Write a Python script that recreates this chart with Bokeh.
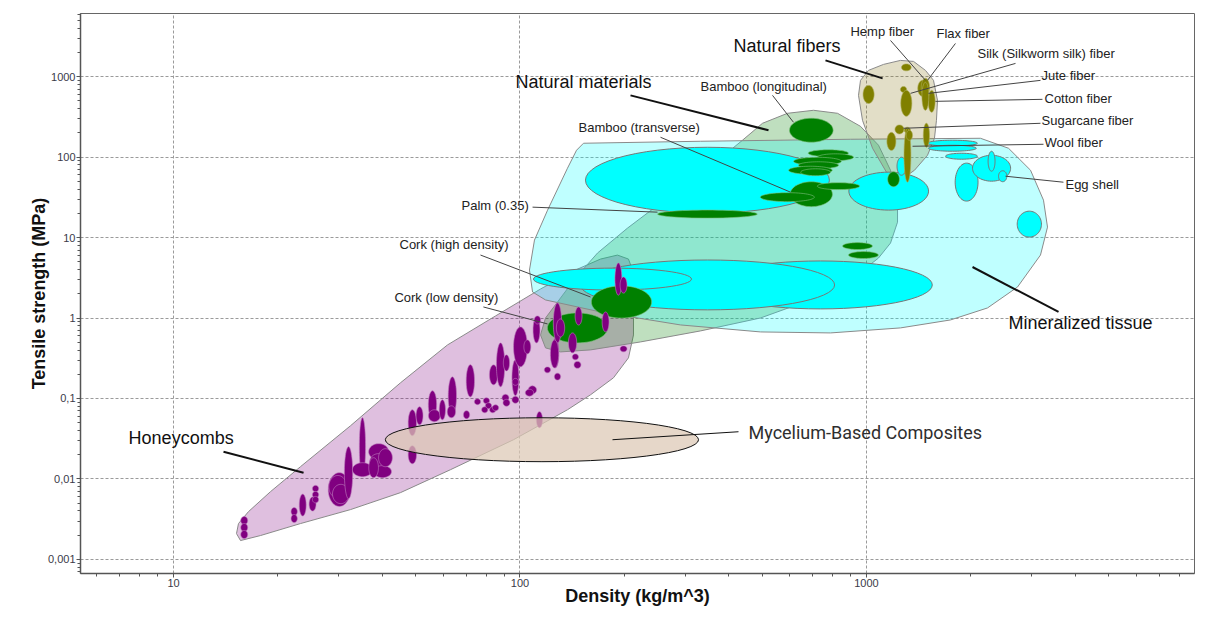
import numpy as np
from bokeh.plotting import figure
from bokeh.models import Range1d, FixedTicker, CustomJSTickFormatter, ColumnDataSource
from bokeh.embed import file_html
from bokeh.resources import INLINE
from bokeh.core.properties import value

# ---------------- envelopes (density kg/m^3, tensile strength MPa) ----------------
honeycomb_env_rho = [15.61, 15.20, 15.40, 16.46, 19.05, 23.26, 32.42, 45.19, 61.78, 85.00, 114.6, 144.6,
                     170.8, 191.1, 205.6, 211.2, 212.6, 212.6, 205.6, 186.1, 159.8, 137.1, 95.8, 63.0,
                     45.19, 32.42, 23.26, 17.83]
honeycomb_env_sig = [0.001714, 0.002094, 0.002786, 0.003926, 0.00695, 0.01422, 0.04581, 0.1567, 0.4634,
                     1.062, 2.296, 3.952, 5.41, 6.06, 5.41, 3.95, 1.679, 0.6166, 0.3199, 0.1807, 0.1112,
                     0.07244, 0.03074, 0.01303, 0.00676, 0.00416, 0.00279, 0.00198]

natmat_env_rho = [118.5, 114.6, 118.5, 130.9, 144.6, 167.4, 204.3, 254.4, 316.8, 378.9, 438.6, 501.1,
                  591.6, 703.1, 824.9, 961.0, 1083, 1173, 1229, 1229, 1173, 1083, 899.1, 689.3, 494.5,
                  331.8, 222.7, 159.8, 130.9]
natmat_env_sig = [0.4256, 0.6166, 1.002, 1.775, 3.147, 6.43, 13.12, 26.8, 51.6, 96.8, 162.2, 263.6,
                  350.8, 382.2, 350.8, 241.5, 140.7, 68.7, 29.2, 15.56, 8.55, 5.57, 2.97, 1.679, 1.002,
                  0.6918, 0.5047, 0.4018, 0.3793]

mineral_env_rho = [152.5, 331.8, 899.1, 2133, 2570, 2974, 3242, 3330, 3178, 2728, 2235, 1748, 1253,
                   787.4, 494.5, 290.5, 170.8, 118.5, 108.7, 106.5, 110.1, 120.1, 137.1, 145.6]
mineral_env_sig = [148.8, 157.5, 166.8, 171.6, 128.9, 68.8, 29.2, 13.5, 6.07, 2.43, 1.335, 0.947, 0.754,
                   0.653, 0.672, 0.821, 1.19, 1.678, 2.107, 3.95, 9.31, 21.9, 72.8, 121.8]

fiber_env_rho = [1120, 1253, 1367, 1480, 1561, 1603, 1592, 1571, 1500, 1376, 1253, 1142, 1041, 973.9,
                 948.3, 961.0, 1013]
fiber_env_sig = [1421, 1593, 1548, 1197, 900, 508, 287.0, 171.6, 105.6, 68.8, 51.7, 65.0, 128.9, 287.0,
                 586.1, 900, 1197]

# ---------------- material bubbles: centre + half-span (decades) ----------------
# Honeycombs (purple)
hc_rho = [16.0, 16.0, 16.0, 22.3, 22.3, 23.6, 25.2, 25.7, 25.7, 25.7, 30.1, 29.8, 30.4, 32.0, 35.1, 35.1,
          39.1, 39.1, 40.1, 37.8, 40.9, 48.9, 48.9, 51.3, 55.9, 56.6, 59.7, 63.8, 63.4, 71.9, 70.1, 75.4,
          80.0, 81.1, 79.1, 83.4, 85.0, 83.9, 87.9, 90.8, 91.4, 97.0, 100.3, 105.0, 97.0, 97.0, 108.6,
          106.5, 111.6, 113.8, 120.0, 126.6, 128.3, 192.3, 199.0, 147.6, 176.6, 128.3, 130.9, 141.8,
          125.8, 144.5, 199.0, 146.5, 112.3, 91.4]
hc_sig = [0.00304, 0.00249, 0.00204, 0.00393, 0.00322, 0.00474, 0.00488, 0.00759, 0.00638, 0.00553,
          0.00738, 0.0080, 0.0065, 0.01197, 0.0252, 0.01303, 0.0218, 0.0164, 0.01233, 0.0138, 0.01837,
          0.0500, 0.0200, 0.0611, 0.0836, 0.0611, 0.0724, 0.108, 0.0684, 0.166, 0.0628, 0.0912, 0.0938,
          0.0813, 0.0724, 0.0724, 0.0767, 0.197, 0.262, 0.102, 0.0885, 0.181, 0.438, 0.438, 0.0964,
          0.161, 0.128, 0.118, 0.711, 0.0545, 0.227, 0.369, 0.187, 3.05, 2.57, 1.06, 0.895, 0.869,
          0.753, 0.491, 0.358, 0.329, 0.414, 0.262, 0.946, 0.277]
hc_drho = [0.010, 0.010, 0.010, 0.009, 0.009, 0.010, 0.010, 0.009, 0.009, 0.009, 0.032, 0.026, 0.024,
           0.012, 0.009, 0.029, 0.029, 0.026, 0.026, 0.014, 0.020, 0.012, 0.012, 0.010, 0.012, 0.017,
           0.009, 0.012, 0.012, 0.012, 0.009, 0.009, 0.009, 0.009, 0.009, 0.009, 0.009, 0.012, 0.012,
           0.010, 0.010, 0.010, 0.020, 0.010, 0.010, 0.009, 0.012, 0.012, 0.010, 0.009, 0.009, 0.010,
           0.009, 0.010, 0.010, 0.010, 0.010, 0.012, 0.012, 0.012, 0.012, 0.009, 0.010, 0.010, 0.009,
           0.009]
hc_dsig = [0.05, 0.05, 0.05, 0.05, 0.05, 0.136, 0.087, 0.04, 0.04, 0.04, 0.21, 0.14, 0.12, 0.323, 0.36,
           0.087, 0.10, 0.10, 0.075, 0.124, 0.112, 0.161, 0.112, 0.112, 0.174, 0.074, 0.124, 0.236,
           0.074, 0.20, 0.05, 0.037, 0.037, 0.037, 0.037, 0.037, 0.037, 0.124, 0.273, 0.043, 0.043,
           0.223, 0.248, 0.087, 0.043, 0.043, 0.05, 0.043, 0.161, 0.10, 0.037, 0.186, 0.043, 0.20, 0.10,
           0.112, 0.124, 0.248, 0.112, 0.124, 0.174, 0.037, 0.037, 0.043, 0.05, 0.10]

# Natural materials (green)
nm_rho = [693, 776, 814, 722, 727, 689, 713, 693, 591, 830, 347.5, 942, 980, 196.3, 146.6, 1197]
nm_sig = [216, 112, 99.6, 88.7, 79.3, 68.7, 64.9, 34.6, 31.8, 43.6, 19.6, 7.85, 6.07, 1.585, 0.753, 53.1]
nm_drho = [0.063, 0.058, 0.052, 0.069, 0.058, 0.063, 0.043, 0.061, 0.078, 0.061, 0.144, 0.043, 0.043,
           0.087, 0.087, 0.017]
nm_dsig = [0.149, 0.043, 0.043, 0.05, 0.043, 0.05, 0.043, 0.155, 0.056, 0.043, 0.05, 0.043, 0.043, 0.20,
           0.186, 0.093]

# Natural fibers (olive)
nf_rho = [1303, 1014, 1279, 1303, 1452, 1479, 1542, 1479, 1245, 1312, 1180, 1313, 1330, 1489]
nf_sig = [1304, 602, 694, 467, 716, 737, 494, 570, 221, 216, 157, 105.6, 187, 187]
nf_drho = [0.014, 0.016, 0.009, 0.016, 0.014, 0.012, 0.010, 0.010, 0.013, 0.009, 0.013, 0.010, 0.009,
           0.009]
nf_dsig = [0.043, 0.112, 0.037, 0.161, 0.10, 0.112, 0.136, 0.174, 0.056, 0.037, 0.112, 0.335, 0.062,
           0.149]

# Mineralized tissue (cyan)
mt_rho = [347.5, 736, 347.5, 184.9, 1159, 1262, 1770, 1770, 1880, 1945, 2296, 2296, 2472, 2951]
mt_sig = [51.7, 2.58, 2.58, 3.05, 37.8, 77.1, 149, 129, 102.6, 48.9, 72.8, 88.9, 57.9, 14.7]
mt_drho = [0.352, 0.323, 0.367, 0.228, 0.115, 0.013, 0.072, 0.069, 0.046, 0.033, 0.055, 0.010, 0.012,
           0.035]
mt_dsig = [0.409, 0.298, 0.31, 0.136, 0.236, 0.112, 0.037, 0.037, 0.037, 0.236, 0.161, 0.124, 0.068,
           0.161]

# Mycelium-based composites
myc_rho = [115.7]
myc_sig = [0.03073]
myc_drho = [0.452]
myc_dsig = [0.273]

# ---------------- labels ----------------
big_text = ["Natural fibers", "Natural materials", "Honeycombs", "Mineralized tissue"]
big_x = [413.3, 97.05, 7.42, 2570]
big_y = [2376, 849.8, 0.03254, 0.8694]

small_text = ["Bamboo (longitudinal)", "Bamboo (transverse)", "Palm (0.35)", "Cork (high density)",
              "Cork (low density)", "Hemp fiber", "Flax fiber", "Silk (Silkworm silk) fiber",
              "Jute fiber", "Cotton fiber", "Sugarcane fiber", "Wool fiber", "Egg shell"]
small_x = [331.8, 147.5, 67.8, 44.9, 43.4, 899, 1592, 2091, 3200, 3264, 3200, 3264, 3752]
small_y = [758.1, 235.0, 25.3, 8.31, 1.776, 3648, 3445, 1946, 1038, 538, 287, 153, 46.1]

myc_text = ["Mycelium-Based Composites"]
myc_x = [456.6]
myc_y = [0.03753]

thick_x0 = [761.5, 208.4, 13.94, 2023]
thick_y0 = [1593, 586.1, 0.02182, 4.31]
thick_x1 = [1113, 521.5, 23.73, 3583]
thick_y1 = [952.6, 215.7, 0.01197, 1.19]

thin_x0 = [535.5, 254.4, 108.7, 76.9, 78.4, 1173, 1806, 2692, 3178, 3220, 3178, 3242, 3702]
thin_y0 = [586.1, 176.6, 23.9, 6.07, 1.373, 2820, 2589, 1462, 900, 522.9, 263.4, 144.5, 48.8]
thin_x1 = [615.7, 603.6, 249.4, 159.8, 120.1, 1480, 1500, 1340, 1510, 1581, 1279, 1358, 2519]
thin_y1 = [271.0, 36.7, 20.7, 1.827, 0.845, 900, 900, 620.6, 620.6, 493.8, 228.4, 136.5, 57.9]

myc_lead_x0 = [184.9]
myc_lead_y0 = [0.03073]
myc_lead_x1 = [427.2]
myc_lead_y1 = [0.03862]

y_major = [0.001, 0.01, 0.1, 1, 10, 100, 1000]
x_major = [10, 100, 1000]


def ellipse_source(rho, sig, drho, dsig, n=60):
    t = np.linspace(0, 2 * np.pi, n, endpoint=False)
    xs, ys = [], []
    for r, s, dr, ds in zip(rho, sig, drho, dsig):
        xs.append(list(r * 10 ** (dr * np.cos(t))))
        ys.append(list(s * 10 ** (ds * np.sin(t))))
    return ColumnDataSource(dict(xs=xs, ys=ys))


p = figure(width=1197, height=608, x_axis_type="log", y_axis_type="log",
           x_range=Range1d(5.39, 8844), y_range=Range1d(0.000668, 6100),
           output_backend="svg", toolbar_location=None,
           min_border_left=80, min_border_right=3, min_border_top=13, min_border_bottom=34)

# ticks
x_minor = [m * 10 ** k for k in range(0, 4) for m in range(2, 10)]
y_minor = [m * 10 ** k for k in range(-4, 4) for m in range(2, 10)]
xt = FixedTicker(ticks=x_major, minor_ticks=x_minor)
yt = FixedTicker(ticks=y_major, minor_ticks=y_minor)
p.xaxis.ticker = xt
p.yaxis.ticker = yt
p.xgrid.ticker = xt
p.ygrid.ticker = yt
p.yaxis.formatter = CustomJSTickFormatter(code="return String(tick).replace('.', ',');")
p.xaxis.formatter = CustomJSTickFormatter(code="return String(tick);")

for ax in (p.xaxis[0], p.yaxis[0]):
    ax.axis_line_color = "#555555"
    ax.axis_line_width = 1.5
    ax.major_tick_line_color = "#555555"
    ax.minor_tick_line_color = "#555555"
    ax.major_tick_in = 0
    ax.minor_tick_in = 0
    ax.major_tick_out = 4
    ax.minor_tick_out = 3
    ax.major_label_text_font = "Liberation Sans"
    ax.major_label_text_font_size = "11px"
    ax.major_label_text_color = "#3a3a48"
    ax.axis_label_text_font = "Liberation Sans"
    ax.axis_label_text_font_size = "18px"
    ax.axis_label_text_font_style = "bold"
    ax.axis_label_text_color = "#111111"

p.xaxis.axis_label = "Density (kg/m^3)"
p.yaxis.axis_label = "Tensile strength (MPa)"
p.xaxis.major_label_standoff = 1
p.yaxis.major_label_standoff = 1
p.xaxis.axis_label_standoff = -4
p.yaxis.axis_label_standoff = -4

for g in (p.xgrid[0], p.ygrid[0]):
    g.grid_line_color = "#9a9a9a"
    g.grid_line_dash = "3 2"
    g.grid_line_width = 1

p.outline_line_color = "#666666"
p.outline_line_width = 1
p.background_fill_color = "white"

# envelopes
p.patch(honeycomb_env_rho, honeycomb_env_sig, fill_color="#800080", fill_alpha=0.25,
        line_color="#8a8a8a", line_width=1)
p.patch(natmat_env_rho, natmat_env_sig, fill_color="#008000", fill_alpha=0.25,
        line_color="#8a8a8a", line_width=1)
p.patch(mineral_env_rho, mineral_env_sig, fill_color="#00ffff", fill_alpha=0.25,
        line_color="#8a8a8a", line_width=1)
p.patch(fiber_env_rho, fiber_env_sig, fill_color="#8a7a20", fill_alpha=0.25,
        line_color="#8a8a8a", line_width=1)

# bubbles
p.patches("xs", "ys", source=ellipse_source(mt_rho, mt_sig, mt_drho, mt_dsig),
          fill_color="#00ffff", line_color="#777777", line_width=1)
p.patches("xs", "ys", source=ellipse_source(nm_rho, nm_sig, nm_drho, nm_dsig),
          fill_color="#008000", line_color="#7fbf7f", line_alpha=0.6, line_width=1)
p.patches("xs", "ys", source=ellipse_source(hc_rho, hc_sig, hc_drho, hc_dsig),
          fill_color="#800080", line_color="#c080c0", line_alpha=0.6, line_width=1)
p.patches("xs", "ys", source=ellipse_source(nf_rho, nf_sig, nf_drho, nf_dsig),
          fill_color="#808000", line_color="#b0b060", line_alpha=0.6, line_width=1)
p.patches("xs", "ys", source=ellipse_source(myc_rho, myc_sig, myc_drho, myc_dsig),
          fill_color="#ddc8b4", fill_alpha=0.72, line_color="#111111", line_width=1)

# leaders
p.segment(thick_x0, thick_y0, thick_x1, thick_y1, line_color="#111111", line_width=2)
p.segment(thin_x0, thin_y0, thin_x1, thin_y1, line_color="#444444", line_width=1)
p.segment(myc_lead_x0, myc_lead_y0, myc_lead_x1, myc_lead_y1, line_color="#111111", line_width=1)

# labels
p.text(big_x, big_y, text=big_text, text_font=value("Liberation Sans"), text_font_size="18px",
       text_color="#111111", text_baseline="middle", text_align="left")
p.text(small_x, small_y, text=small_text, text_font=value("Liberation Sans"), text_font_size="13px",
       text_color="#222222", text_baseline="middle", text_align="left")
p.text(myc_x, myc_y, text=myc_text, text_font=value("Roboto"), text_font_size="18px",
       text_color="#2e2e2e", text_baseline="middle", text_align="left")

open("out.html", "w").write(file_html(p, INLINE))
